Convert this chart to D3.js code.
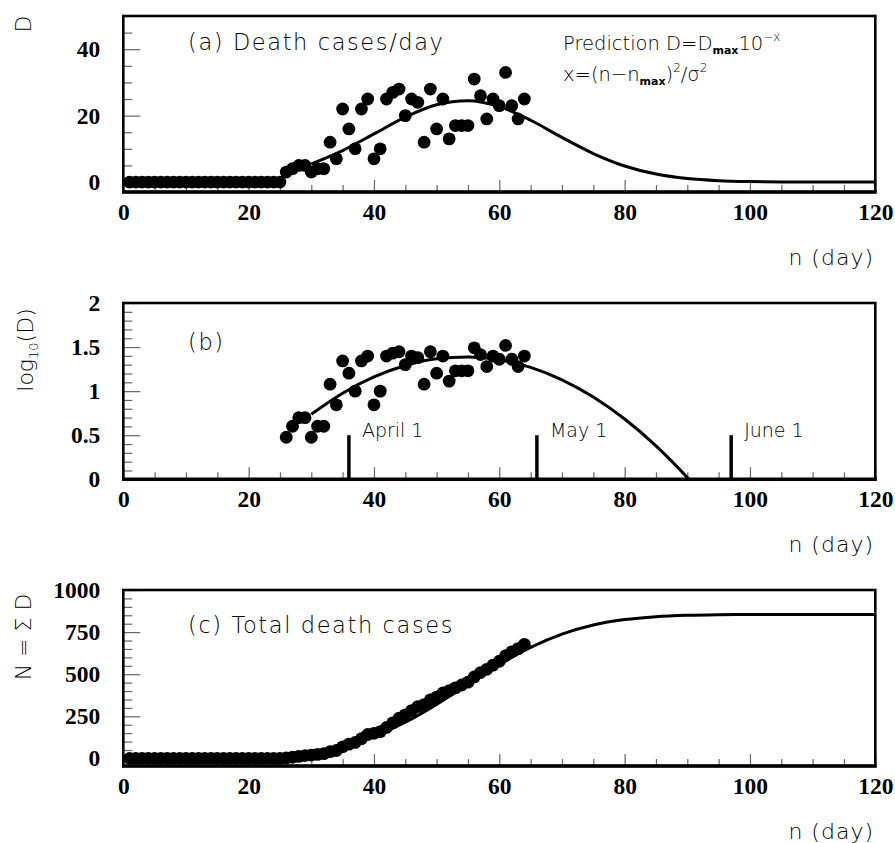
<!DOCTYPE html>
<html><head><meta charset="utf-8">
<script src="https://cdn.jsdelivr.net/npm/d3@7"></script>
<style>
body{margin:0;background:#fff}
.tick text{font-family:"Liberation Serif","Times New Roman",serif;font-weight:bold;font-size:23.5px;fill:#000}
.lbl{font-family:"DejaVu Sans",sans-serif;font-weight:300;fill:#000}
</style></head>
<body><svg id="c" width="895" height="843"></svg>
<script>
// ---- data ----
const days = [1,2,3,4,5,6,7,8,9,10,11,12,13,14,15,16,17,18,19,20,21,22,23,24,25,26,27,28,29,30,31,32,
  33,34,35,36,37,38,39,40,41,42,43,44,45,46,47,48,49,50,51,52,53,54,55,56,57,58,59,60,61,62,63,64];
const deaths = [0,0,0,0,0,0,0,0,0,0,0,0,0,0,0,0,0,0,0,0,0,0,0,0,0,
  3,4,5,5,3,4,4,12,7,22,16,10,22,25,7,10,25,27,28,20,25,24,12,28,16,25,13,17,17,17,31,26,19,25,23,33,23,19,25];
const totals = [0,0,0,0,0,0,0,0,0,0,0,0,0,0,0,0,0,0,0,0,0,0,0,0,0,
  3,7,12,17,20,24,28,40,47,69,85,95,117,142,149,159,184,211,239,259,284,308,320,348,364,389,402,419,436,453,
  484,510,529,554,577,610,633,652,677];
const fitDays = [30,35,40,45,50,55,60,65,70,75,80,85,90,95,100,105,110,115,120];
const fitDeaths = [5.47,9.48,14.49,19.55,23.28,24.48,22.70,18.60,13.44,8.58,4.83,2.40,1.05,0.41,0.14,0.042,0.011,0.0026,0.0006];
const fitTotalDays = [20,25,30,35,40,45,50,55,60,65,70,75,80,85,90,95,100,105,110,115,120];
const fitTotals = [6.3,15.8,35.7,71.9,130.6,214.7,320.8,439.6,556.9,659.2,738.1,792.0,824.4,841.7,849.8,853.2,854.4,854.8,855,855,855];
const xMajor = [0,20,40,60,80,100,120];
const monthDays = [36,66,97];
const monthLabels = ["April 1","May 1","June 1"];

// ---- layout ----
const svg = d3.select('#c');
const X0 = 123.3, X1 = 875.3;
const x = d3.scaleLinear().domain([0,120]).range([X0,X1]);
const xMinor = d3.range(0,121,5).filter(v=>v%20!==0);

function panel(cfg){
  const y = d3.scaleLinear().domain(cfg.domain).range([cfg.bottom,cfg.top]);
  const g = svg.append('g');
  const clipId = 'clip'+cfg.id;
  svg.append('clipPath').attr('id',clipId).append('rect')
    .attr('x',X0).attr('y',cfg.top).attr('width',X1-X0).attr('height',cfg.bottom-cfg.top);
  const styleTicks = s=>{ s.select('.domain').remove(); s.selectAll('.tick line').attr('stroke','#666').attr('stroke-width',1.2); };
  // x ticks
  g.append('g').attr('transform',`translate(0,${cfg.bottom})`)
    .call(d3.axisBottom(x).tickValues(xMinor).tickSize(-7).tickFormat('')).call(styleTicks);
  g.append('g').attr('transform',`translate(0,${cfg.bottom})`)
    .call(d3.axisBottom(x).tickValues(xMajor).tickSize(-12).tickPadding(11.5).tickFormat(d3.format('d'))).call(styleTicks);
  // y ticks
  g.append('g').attr('transform',`translate(${X0},0)`)
    .call(d3.axisLeft(y).tickValues(cfg.yMinor).tickSize(-9).tickFormat('')).call(styleTicks);
  g.append('g').attr('transform',`translate(${X0},0)`)
    .call(d3.axisLeft(y).tickValues(cfg.yMajor).tickSize(-17).tickPadding(23).tickFormat(cfg.fmt)).call(styleTicks);
  g.selectAll('.tick text').attr('fill','#000');
  // frame
  g.append('rect').attr('x',X0).attr('y',cfg.top).attr('width',X1-X0).attr('height',cfg.bottom-cfg.top)
    .attr('fill','none').attr('stroke','#000').attr('stroke-width',2.6);
  g.append('line').attr('x1',X0-1.3).attr('x2',X1+1.3).attr('y1',cfg.bottom).attr('y2',cfg.bottom)
    .attr('stroke','#000').attr('stroke-width',3.4);
  // fit line
  const line = d3.line().x(d=>x(d[0])).y(d=>y(d[1])).curve(d3.curveMonotoneX);
  g.append('path').attr('clip-path',`url(#${clipId})`).datum(cfg.fit)
    .attr('d',line).attr('fill','none').attr('stroke','#000').attr('stroke-width',3);
  // points
  g.append('g').attr('clip-path',`url(#${clipId})`).selectAll('circle').data(cfg.pts).join('circle')
    .attr('cx',d=>x(d[0])).attr('cy',d=>y(d[1])).attr('r',6.4).attr('fill','#000');
  // n (day)
  g.append('text').attr('class','lbl').attr('x',874).attr('y',cfg.bottom+73)
    .attr('text-anchor','end').attr('font-size',22).attr('letter-spacing',1).text('n (day)');
  return {g,y};
}

// (a)
const A = panel({id:'a',top:16,bottom:192,domain:[-3,50],yMajor:[0,20,40],yMinor:[5,10,15,25,30,35,45],
  fmt:d3.format('d'),
  pts:days.map((d,i)=>[d,deaths[i]]),
  fit:fitDays.map((d,i)=>[d,fitDeaths[i]])});
// (b)
const B = panel({id:'b',top:303,bottom:479.3,domain:[0,2],yMajor:[0,0.5,1,1.5,2],
  yMinor:d3.range(1,20).map(v=>v/10).filter(v=>Math.round(v*10)%5!==0),
  fmt:d=>String(d),
  pts:days.map((d,i)=>[d,deaths[i]]).filter(d=>d[1]>0).map(d=>[d[0],Math.log10(d[1])]),
  fit:fitDays.map((d,i)=>[d,Math.log10(fitDeaths[i])])});
// (c)
const C = panel({id:'c',top:590,bottom:766,domain:[-45,1000],yMajor:[0,250,500,750,1000],
  yMinor:d3.range(50,1000,50).filter(v=>v%250!==0),
  fmt:d3.format('d'),
  pts:days.map((d,i)=>[d,totals[i]]),
  fit:fitTotalDays.map((d,i)=>[d,fitTotals[i]])});

// month markers in (b)
B.g.selectAll('line.month').data(monthDays).join('line').attr('class','month')
  .attr('x1',d=>x(d)).attr('x2',d=>x(d)).attr('y1',B.y(0)).attr('y2',B.y(0.5))
  .attr('stroke','#000').attr('stroke-width',3.5);
B.g.selectAll('text.month').data(monthDays).join('text').attr('class','lbl month')
  .attr('x',d=>x(d)+13).attr('y',B.y(0.5)+2).attr('font-size',19)
  .text((d,i)=>monthLabels[i]);

// panel titles
const tl = {'font-size':22.5,'letter-spacing':1.6};
function title(xp,yp,t){ const s=svg.append('text').attr('class','lbl').attr('x',xp).attr('y',yp);
  Object.entries(tl).forEach(([k,v])=>s.attr(k,v)); s.text(t); }
title(188,50,'(a) Death cases/day');
title(188,350,'(b)');
title(188,633,'(c) Total death cases');

const p1 = svg.append('text').attr('class','lbl').attr('x',563).attr('y',50).attr('font-size',19.5);
p1.append('tspan').text('Prediction D=D');
p1.append('tspan').attr('font-size',11).attr('dy',4).attr('font-weight','bold').text('max');
p1.append('tspan').attr('dy',-4).text('10');
p1.append('tspan').attr('font-size',12).attr('dy',-9).text('−x');
const p2 = svg.append('text').attr('class','lbl').attr('x',563).attr('y',81).attr('font-size',19.5);
p2.append('tspan').text('x=(n−n');
p2.append('tspan').attr('font-size',11).attr('dy',4).attr('font-weight','bold').text('max');
p2.append('tspan').attr('dy',-4).text(')');
p2.append('tspan').attr('font-size',12).attr('dy',-9).text('2');
p2.append('tspan').attr('dy',9).text('/σ');
p2.append('tspan').attr('font-size',12).attr('dy',-9).text('2');

// y titles
svg.append('text').attr('class','lbl').attr('transform','translate(31,24) rotate(-90)')
  .attr('text-anchor','middle').attr('font-size',22).text('D');
const yb = svg.append('text').attr('class','lbl').attr('transform','translate(33,350) rotate(-90)')
  .attr('text-anchor','middle').attr('font-size',22);
yb.append('tspan').text('log');
yb.append('tspan').attr('font-size',13).attr('dy',5).text('10');
yb.append('tspan').attr('dy',-5).text('(D)');
svg.append('text').attr('class','lbl').attr('transform','translate(31,637) rotate(-90)')
  .attr('text-anchor','middle').attr('font-size',22).text('N = Σ D');
</script>
</body></html>
